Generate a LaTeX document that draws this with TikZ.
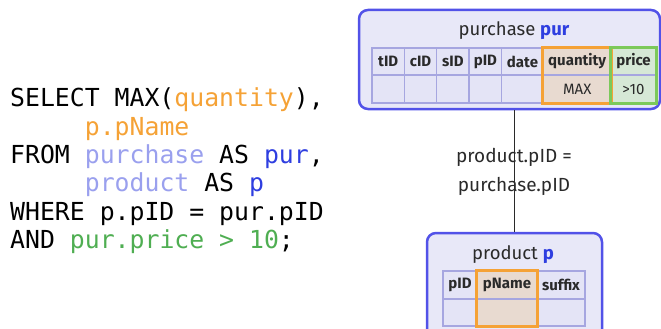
\documentclass[tikz,border=0pt]{standalone}
\usepackage{fontspec}
\setmainfont{Fira Sans}
\newfontfamily\codefont{DejaVu Sans Mono}
\definecolor{boxblue}{HTML}{5252E8}
\definecolor{boxfill}{HTML}{E8E8F8}
\definecolor{cellfill}{HTML}{E4E4F6}
\definecolor{cellline}{HTML}{A6A6E0}
\definecolor{qorange}{HTML}{F5A236}
\definecolor{qfill}{HTML}{E8DAD0}
\definecolor{pgreen}{HTML}{7CC95A}
\definecolor{gfill}{HTML}{D6E8D6}
\definecolor{lav}{HTML}{9AA0EE}
\definecolor{kwblue}{HTML}{2E3EE0}
\definecolor{sqlgreen}{HTML}{4FAE52}
\definecolor{txt}{HTML}{2A2A2A}
\tikzset{
  tablebox/.style={draw=boxblue, line width=2.5pt, fill=boxfill, rounded corners=9pt, inner sep=0pt},
  cell/.style={draw=cellline, line width=1.4pt, fill=cellfill, inner sep=0pt, text=txt, font=\fontsize{15}{16}\selectfont\bfseries},
  dcell/.style={cell, font=\fontsize{15}{16}\selectfont},
  hilite/.style={draw=qorange, line width=2.6pt},
  ghilite/.style={draw=pgreen, line width=2.6pt},
  code/.style={anchor=west, inner sep=0pt, text=black, font=\codefont\fontsize{24.8}{28}\selectfont},
  title/.style={text=txt, font=\fontsize{18.5}{21}\selectfont},
  joinline/.style={draw=txt, line width=1.6pt},
}
\begin{document}
\begin{tikzpicture}[x=1pt, y=-1pt]
\useasboundingbox (0,0) rectangle (661,329);
% SQL code
\node[code] (l1) at (10,100) {SELECT MAX(\textcolor{qorange}{quantity}),};
\node[code] (l2) at (10,129) {\phantom{WHERE}\textcolor{qorange}{p.pName}};
\node[code] (l3) at (10,157) {FROM \textcolor{lav}{purchase} AS \textcolor{kwblue}{pur},};
\node[code] (l4) at (10,185) {\phantom{WHERE}\textcolor{lav}{product} AS \textcolor{kwblue}{p}};
\node[code] (l5) at (10,214) {WHERE p.pID = pur.pID};
\node[code] (l6) at (10,242) {AND \textcolor{sqlgreen}{pur.price > 10};};
% purchase box
\node[tablebox, minimum width=301pt, minimum height=99pt] (purbox) at (509.5,59.5) {};
\node[title] (purtitle) at (514,31) {purchase \textcolor{kwblue}{\bfseries pur}};
\node[cell, minimum width=32.3pt, minimum height=27pt] (h1) at (388.2,61.5) {tID};
\node[cell, minimum width=32.4pt, minimum height=27pt] (h2) at (420.5,61.5) {cID};
\node[cell, minimum width=32.3pt, minimum height=27pt] (h3) at (452.9,61.5) {sID};
\node[cell, minimum width=32.7pt, minimum height=27pt] (h4) at (485.4,61.5) {pID};
\node[cell, minimum width=41.6pt, minimum height=27pt] (h5) at (522.5,61.5) {date};
\node[cell, fill=qfill, minimum width=67.7pt, minimum height=27pt] (h6) at (577.2,61.5) {quantity};
\node[cell, fill=gfill, minimum width=45pt, minimum height=27pt] (h7) at (633.5,61.5) {price};
\node[dcell, minimum width=32.3pt, minimum height=28pt] (d1) at (388.2,89) {};
\node[dcell, minimum width=32.4pt, minimum height=28pt] (d2) at (420.5,89) {};
\node[dcell, minimum width=32.3pt, minimum height=28pt] (d3) at (452.9,89) {};
\node[dcell, minimum width=32.7pt, minimum height=28pt] (d4) at (485.4,89) {};
\node[dcell, minimum width=41.6pt, minimum height=28pt] (d5) at (522.5,89) {};
\node[dcell, fill=qfill, minimum width=67.7pt, minimum height=28pt] (d6) at (577.2,89) {MAX};
\node[dcell, fill=gfill, minimum width=45pt, minimum height=28pt] (d7) at (633.5,89) {>10};
\draw[hilite] (h6.north west) rectangle (d6.south east);
\draw[ghilite] (h7.north west) rectangle (d7.south east);
% product box
\node[tablebox, minimum width=175pt, minimum height=107pt] (prodbox) at (514.5,286.5) {};
\node[title] (prodtitle) at (513,255) {product \textcolor{kwblue}{\bfseries p}};
\node[cell, minimum width=34pt, minimum height=28pt] (ph1) at (460,285) {pID};
\node[cell, fill=qfill, minimum width=60pt, minimum height=28pt] (ph2) at (507,285) {pName};
\node[cell, minimum width=48pt, minimum height=28pt] (ph3) at (561,285) {suffix};
\node[dcell, minimum width=34pt, minimum height=27pt] (pd1) at (460,312.5) {};
\node[dcell, fill=qfill, minimum width=60pt, minimum height=27pt] (pd2) at (507,312.5) {};
\node[dcell, minimum width=48pt, minimum height=27pt] (pd3) at (561,312.5) {};
\draw[hilite] (ph2.north west) rectangle (pd2.south east);
% join
\node[text=txt, align=center, font=\fontsize{19}{29}\selectfont] (joinlbl) at (514,172) {product.pID =\\purchase.pID};
\draw[joinline] (purbox.south -| prodbox.north) -- (prodbox.north);
\end{tikzpicture}
\end{document}
